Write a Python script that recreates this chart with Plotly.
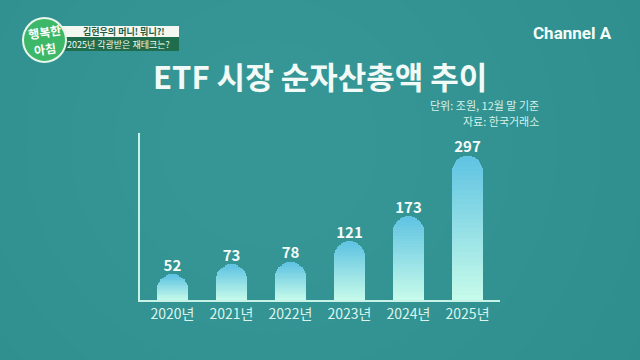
import plotly.graph_objects as go

# ---- data ----
years = ["2020년", "2021년", "2022년", "2023년", "2024년", "2025년"]
values = [52, 73, 78, 121, 173, 297]
title_text = "ETF 시장 순자산총액 추이"
note_lines = ["단위: 조원, 12월 말 기준", "자료: 한국거래소"]

FONT = "Noto Sans CJK KR"
N_SEG = 30
top_rgb = (96, 196, 226)
bot_rgb = (198, 250, 234)
BG = "#2b8c8b"

fig = go.Figure()

# gradient bars built as stacked slices of each value (bottom -> top)
for k in range(N_SEG):
    t = k / (N_SEG - 1)
    c = tuple(round(b + (tp - b) * t) for b, tp in zip(bot_rgb, top_rgb))
    fig.add_trace(go.Bar(
        x=years, y=[v / N_SEG for v in values],
        marker=dict(color=f"rgb{c}", line=dict(width=0)),
        width=0.51, hoverinfo="skip", showlegend=False,
    ))

# value labels
fig.add_trace(go.Scatter(
    x=years, y=values, mode="text", text=[str(v) for v in values],
    textposition="top center",
    textfont=dict(family=FONT, size=15, color="#f4fbf8", weight="bold"),
    showlegend=False, hoverinfo="skip", cliponaxis=False,
))

W, H = 640, 360
def px(x):
    return x / W
def py(y):
    return 1 - y / H

shapes = []
# background lighting (decorative soft radial glow)
for i in range(10):
    r = 0.8 - i * 0.07
    shapes.append(dict(type="circle", xref="paper", yref="paper", layer="below",
                       x0=0.42 - r, x1=0.42 + r, y0=0.6 - r * 1.7, y1=0.6 + r * 1.7,
                       fillcolor="rgba(110,200,195,0.025)", line=dict(width=0)))

# logo circle and banners
shapes += [
    dict(type="rect", xref="paper", yref="paper", x0=px(58), x1=px(179), y0=py(37), y1=py(26),
         fillcolor="#f4f7f2", line=dict(width=0)),
    dict(type="rect", xref="paper", yref="paper", x0=px(58), x1=px(179), y0=py(51), y1=py(37),
         fillcolor="#1f6d4c", line=dict(width=0)),
    dict(type="circle", xref="paper", yref="paper", x0=px(23), x1=px(66), y0=py(62), y1=py(18),
         fillcolor="#3db768", line=dict(color="#e9f7ea", width=2)),
]

anns = [
    dict(text=title_text, x=0.5, y=py(75), xref="paper", yref="paper", showarrow=False,
         font=dict(family=FONT, size=31, color="#f2faf7", weight="bold"), xanchor="center", yanchor="middle"),
    dict(text=note_lines[0], x=px(541), y=py(105), xref="paper", yref="paper", showarrow=False,
         font=dict(family=FONT, size=11, color="#d6f1ea"), xanchor="right", yanchor="middle"),
    dict(text=note_lines[1], x=px(541), y=py(121), xref="paper", yref="paper", showarrow=False,
         font=dict(family=FONT, size=11, color="#d6f1ea"), xanchor="right", yanchor="middle"),
    dict(text="Channel <b>A</b>", x=px(614), y=py(33), xref="paper", yref="paper", showarrow=False,
         font=dict(family="Roboto", size=17, color="#f4fbf8", weight="bold"), xanchor="right", yanchor="middle"),
    dict(text="김현우의 머니! 뭐니?!", x=px(124), y=py(31.5), xref="paper", yref="paper", showarrow=False,
         font=dict(family=FONT, size=9, color="#1f5e3e", weight="bold"), xanchor="center", yanchor="middle"),
    dict(text="2025년 각광받은 재테크는?", x=px(118), y=py(44), xref="paper", yref="paper", showarrow=False,
         font=dict(family=FONT, size=9, color="#f2faf2"), xanchor="center", yanchor="middle"),
    dict(text="행복한", x=px(44), y=py(31), xref="paper", yref="paper", showarrow=False, textangle=-8,
         font=dict(family=FONT, size=12, color="#ffffff", weight="bold"), xanchor="center", yanchor="middle"),
    dict(text="아침", x=px(45), y=py(49), xref="paper", yref="paper", showarrow=False, textangle=-8,
         font=dict(family=FONT, size=12, color="#ffffff", weight="bold"), xanchor="center", yanchor="middle"),
]

fig.update_layout(
    width=W, height=H,
    margin=dict(l=0, r=0, t=0, b=0),
    paper_bgcolor=BG, plot_bgcolor="rgba(0,0,0,0)",
    barmode="stack", bargap=0, barcornerradius=15,
    shapes=shapes, annotations=anns,
    xaxis=dict(domain=[px(140), px(500)], range=[-0.55, 5.55], showgrid=False, zeroline=False,
               showline=True, linecolor="#c6f2e8", linewidth=2, ticks="",
               tickfont=dict(family=FONT, size=14, color="#dcf4ee"), fixedrange=True),
    yaxis=dict(domain=[py(300), py(133)], range=[0, 345], showgrid=False, zeroline=False,
               showline=True, linecolor="#c6f2e8", linewidth=2, showticklabels=False, ticks="",
               fixedrange=True),
    font=dict(family=FONT),
)

fig.write_html("out.html", config={"displayModeBar": False},
               post_script="document.body.style.margin='0';document.body.style.background='%s';" % BG)
